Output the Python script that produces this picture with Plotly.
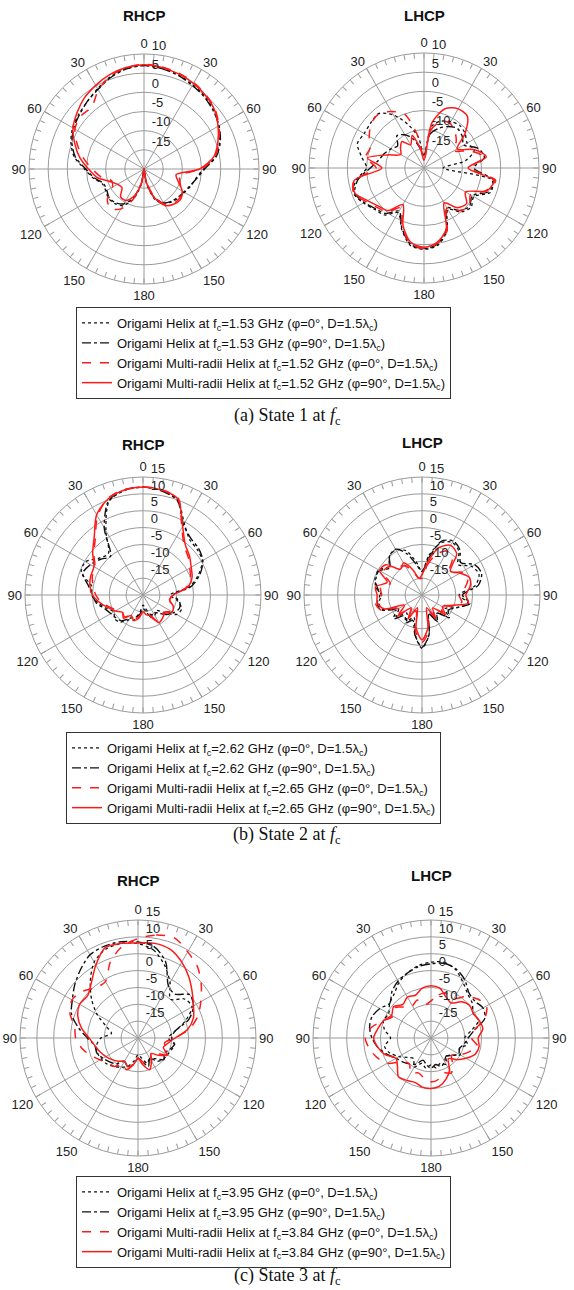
import plotly.graph_objects as go

# Elevation angle (deg), clockwise from zenith, sampled every 10 deg
theta = list(range(0, 360, 10))

# ---------------- State 1 : RHCP (dBic) ----------------
s1_rhcp_helix_phi0 = [7.0, 6.7, 6.2, 5.4, 4.7, 3.8, 2.5, 1.0, -1.0, -4.5, -6.2, -7.0,
                      -7.8, -8.2, -8.8, -9.6, -11.5, -16, -20, -16, -11.5, -9.0, -8.2, -8.0,
                      -8.5, -8.5, -6.5, -4.5, -1.5, 0.3, 1.5, 2.2, 3.0, 4.2, 5.6, 6.6]
s1_rhcp_helix_phi90 = [7.0, 6.6, 6.0, 5.2, 4.5, 3.6, 2.6, 1.2, -0.8, -4.2, -6.0, -7.2,
                       -8.0, -8.5, -9.0, -9.8, -12, -16.5, -20, -16.5, -12, -9.5, -8.5, -8.2,
                       -8.8, -8.8, -6.8, -4.8, -1.8, 0.0, 1.2, 2.0, 3.0, 4.0, 5.4, 6.5]
s1_rhcp_multi_phi0 = [7.3, 7.0, 6.6, 6.0, 5.2, 4.2, 2.6, 0.8, -1.2, -5.0, -10.5, -10.0,
                      -8.8, -8.0, -8.2, -9.5, -12.5, -17, -20, -16, -11.5, -8.0, -6.5, -7.5,
                      -10.5, -11.0, -8.5, -6.5, -4.0, -1.5, 0.8, 1.5, 1.2, 3.8, 5.8, 6.8]
s1_rhcp_multi_phi90 = [7.2, 6.9, 6.4, 5.8, 5.0, 4.0, 2.3, 0.5, -1.5, -5.5, -11.5, -10.5,
                       -8.5, -7.6, -8.0, -9.0, -12.0, -16.5, -20, -16.5, -12.5, -10.5, -10.5, -12.5,
                       -12.0, -10.5, -7.5, -5.5, -3.0, -0.8, 1.4, 2.8, 4.2, 5.2, 6.2, 6.9]

# ---------------- State 1 : LHCP ----------------
s1_lhcp_helix_phi0 = [-17, -9, -7, -6, -5.5, -6, -7, -6, -9, -15, -2, -1.5,
                      -5, -4, -5, -7.5, -2.5, 0.5, 1.2, 0.5, -3, -6.5, -4.0, -3.2,
                      -1.8, -0.5, -2, -5, -3.5, -1.5, -2, -1.8, -1.5, -4, -8, -12]
s1_lhcp_helix_phi90 = [-17, -11, -9, -7.5, -6.5, -7, -8, -5, -4, -7, -1.5, -2,
                       -5.5, -4.5, -5.5, -8, -3, 0.2, 1.0, 0.2, -3.2, -7, -4.5, -3.5,
                       -2.0, -0.8, -2.5, -6, -8, -9, -10, -11, -9, -10, -12, -15]
s1_lhcp_multi_phi0 = [-18, -10, -7, -6.5, -7.5, -9, -11, -7, -4, -8, -1.0, -2.8,
                      -6, -4.5, -5.5, -8, -2.5, 0.0, 1.0, 0.0, -3.5, -8, -5, -4,
                      -2.5, -0.5, -1.5, -7.5, -4.5, -5, -3.5, -2.0, -1.6, -3.0, -5, -12]
s1_lhcp_multi_phi90 = [-18, -8, -3.5, -2.2, -2.4, -6, -10, -6, -3.5, -8.5, -1.5, -2.5,
                       -7.5, -5.5, -6.5, -9.5, -3.0, -0.3, 0.7, -0.3, -4, -9, -5.5, -4.5,
                       -3.0, -0.8, -1.5, -9, -5, -10, -13, -12, -11, -13, -11, -15]

# ---------------- State 2 : RHCP ----------------
s2_rhcp_helix_phi0 = [12.0, 11.5, 10.0, 4.5, 1.5, 1.0, 0.3, -2.5, -6, -12, -9.5, -7.8,
                      -8.5, -12, -14, -13, -14, -16, -17, -15, -12, -11.5, -9.5, -9,
                      -10, -8.5, -6.5, -4.8, -4.5, -0.5, -0.3, -3, -4.0, 2.0, 9.5, 11.5]
s2_rhcp_helix_phi90 = [12.0, 11.4, 9.8, 4.0, 2.0, 1.5, 0.5, -2.0, -5.5, -11, -9.0, -8.5,
                       -9.5, -11, -13, -14, -13, -15, -16, -14, -13, -12, -10, -9.5,
                       -9, -8, -6.0, -5.0, -3.5, -1.0, -2.0, -3.5, -5.0, 3.0, 9.8, 11.6]
s2_rhcp_multi_phi0 = [12.0, 11.7, 10.5, 3.0, -1.0, -2.5, -4.0, -5.0, -7.0, -11, -12, -11,
                      -10.5, -12, -11.5, -11, -13, -14.5, -15, -13.5, -12.5, -13, -11.5, -12,
                      -11, -9.5, -7.5, -6.0, -5.0, -4.0, -3.5, -1.0, 2.0, 7.0, 10.5, 11.8]
s2_rhcp_multi_phi90 = [12.0, 11.6, 10.3, 3.5, -0.5, -2.0, -3.5, -4.5, -6.5, -11, -12, -10.5,
                       -10, -11.5, -11, -10.5, -13.5, -14, -15, -13, -12, -13, -11, -12,
                       -10.5, -9, -7.0, -5.0, -4.0, -3.5, -3.2, -0.5, 2.5, 7.5, 10.3, 11.6]

# ---------------- State 2 : LHCP ----------------
s2_lhcp_helix_phi0 = [-13, -8, -3.5, -2, -3, -6, -3, -2, -4, -9, -6, -9,
                      -12, -10, -13, -11, -14, -8, -4.2, -8, -13, -11, -13, -10,
                      -12, -7.5, -7, -8, -6, -5.5, -5, -7, -5, -4.5, -6, -10]
s2_lhcp_helix_phi90 = [-13, -9, -3, -1.5, -2.5, -5, -2, -1.2, -3, -8, -5.5, -9,
                       -11, -9.5, -13, -11, -14, -8, -4.5, -8, -12, -10.5, -12, -9,
                       -11, -7, -6.5, -7.5, -6.5, -5.2, -5.5, -7.5, -5, -4.3, -7, -11]
s2_lhcp_multi_phi0 = [-15, -11, -7, -5, -6, -9.5, -6.5, -5.5, -7, -9, -8, -10,
                      -14, -12, -15, -13, -15, -9, -6, -9, -15, -12, -15, -10,
                      -12, -7, -6, -8, -7.5, -10, -6.5, -7, -9, -10, -13, -15]
s2_lhcp_multi_phi90 = [-14, -10, -5, -3, -4, -9, -7, -5, -5.5, -7, -6, -11,
                       -13, -11, -15, -12, -16, -10, -6.7, -10, -16, -12, -15, -11,
                       -14, -8, -6.5, -6.7, -6, -9, -5.5, -6, -10, -9, -12, -15]

# ---------------- State 3 : RHCP ----------------
s3_rhcp_helix_phi0 = [8.0, 6.5, 3.0, -1.0, -5.0, -2.0, -1.5, -5, -9, -11, -9, -9.5,
                      -10, -10.2, -11, -13, -12, -14, -15, -13, -11, -10, -9, -8,
                      -7.5, -7.2, -7.5, -9, -12, -10, -6, -2, 2, 6, 8, 8.5]
s3_rhcp_helix_phi90 = [8.5, 7.5, 4.0, -2.0, -3.0, 0.0, -1.0, -4, -9, -10, -9, -10,
                       -11, -10, -12, -13, -11, -13, -14, -12, -11, -12, -10, -9,
                       -8, -7, -7, -5, -2, 1, 2.5, 4.5, 6.5, 8.5, 9.0, 9.0]
s3_rhcp_multi_phi0 = [9.5, 11.0, 11.6, 9.5, 7.5, 4.5, 1.5, -1.1, -4.5, -9, -12, -11,
                      -10, -13, -14, -12, -11, -13, -14, -12, -10, -11, -9, -8.5,
                      -7, -5, -3, -1.5, -0.9, 1.5, 2.6, 1.5, -0.5, -0.7, 4, 7.5]
s3_rhcp_multi_phi90 = [8.2, 8.5, 8.0, 6.0, 3.5, 1.0, -1, -2.5, -5, -9, -11, -12,
                       -10, -12, -14, -12, -10, -12, -14, -12, -11, -12, -11, -10,
                       -9, -8, -7, -5.5, -3, -1, 0, -0.5, 1.5, 5, 8.5, 8.5]

# ---------------- State 3 : LHCP ----------------
s3_lhcp_helix_phi0 = [2.5, 2.8, 1.5, -1, -3, -4, -5.5, -5, -8, -10, -9, -11,
                      -10, -12, -13, -11, -12, -11, -12, -11, -12, -10, -12, -11,
                      -9, -7, -6, -8, -6, -5, -5.5, -4, -3, -1, 0.5, 1.8]
s3_lhcp_helix_phi90 = [2.0, 2.5, 1.8, 0, -2.5, -3, -2.2, -3, -7, -9, -10, -11,
                       -10.5, -12, -13, -12, -11, -12, -11, -12, -13, -11, -10, -9,
                       -8, -6, -4, -2.5, -1.5, -1.4, -2.5, -4, -2, -0.5, 0.5, 1.5]
s3_lhcp_multi_phi0 = [-9, -7, -6, -6.5, -4, -2, -1, -3, -7, -8, -6, -8,
                      -10, -12, -10, -8, -9, -7.5, -7, -8, -9, -8, -10, -9,
                      -5, -3, -1.5, -0.5, -2, -5, -7, -6, -8, -9, -8, -10]
s3_lhcp_multi_phi90 = [-4.5, -5, -7, -8, -6, -5, -5.5, -4.8, -4.4, -6, -5.5, -6,
                       -8, -10, -12, -9, -7, -5.5, -5.0, -5.2, -6, -5.5, -5, -7,
                       -8, -5.5, -4, -3, -4, -5, -6.5, -5.5, -7, -6, -6.5, -5]

# Legend labels per state: (helix f_c, multi-radii f_c)
state_freqs = [("1.53", "1.52"), ("2.62", "2.65"), ("3.95", "3.84")]
captions = ["(a) State 1 at <i>f</i><sub>c</sub>",
            "(b) State 2 at <i>f</i><sub>c</sub>",
            "(c) State 3 at <i>f</i><sub>c</sub>"]
panel_titles = ["RHCP", "LHCP"]
radial_max = [10, 15, 15]

W, H = 574, 1290

# Panel centres and radii in pixels
panel_geom = [
    [(144, 169, 115), (424, 168, 115)],
    [(143, 595, 118), (422, 595, 118)],
    [(138, 1038, 118), (431, 1038, 118)],
]
title_y = [[15, 15], [445, 442], [880, 875]]
legend_pos = [(76, 307), (66, 732), (76, 1176)]
caption_y = [417, 835, 1290]

series = [
    [(s1_rhcp_helix_phi0, s1_rhcp_helix_phi90, s1_rhcp_multi_phi0, s1_rhcp_multi_phi90),
     (s1_lhcp_helix_phi0, s1_lhcp_helix_phi90, s1_lhcp_multi_phi0, s1_lhcp_multi_phi90)],
    [(s2_rhcp_helix_phi0, s2_rhcp_helix_phi90, s2_rhcp_multi_phi0, s2_rhcp_multi_phi90),
     (s2_lhcp_helix_phi0, s2_lhcp_helix_phi90, s2_lhcp_multi_phi0, s2_lhcp_multi_phi90)],
    [(s3_rhcp_helix_phi0, s3_rhcp_helix_phi90, s3_rhcp_multi_phi0, s3_rhcp_multi_phi90),
     (s3_lhcp_helix_phi0, s3_lhcp_helix_phi90, s3_lhcp_multi_phi0, s3_lhcp_multi_phi90)],
]

styles = [
    dict(color="#111111", dash="dot", width=1.3),
    dict(color="#111111", dash="dashdot", width=1.4),
    dict(color="#ff1a1a", dash="dash", width=1.5),
    dict(color="#ff1a1a", dash="solid", width=1.5),
]

GRID = "#9a9a9a"
FONT = "Liberation Sans, Arial, sans-serif"
SERIF = "Liberation Serif, Times New Roman, serif"
NBSP = "\u00a0"


def closed(vals):
    return list(vals) + [vals[0]], theta + [360]


def ang_label(a):
    if a % 30:
        return ""
    return str(a if a <= 180 else 360 - a)


fig = go.Figure()
layout_polars = {}
annotations = []
legends = {}

pidx = 0
for row in range(3):
    helix_f, multi_f = state_freqs[row]
    names = [
        f"Origami Helix at f<sub>c</sub>={helix_f} GHz (φ=0°, D=1.5λ<sub>c</sub>)",
        f"Origami Helix at f<sub>c</sub>={helix_f} GHz (φ=90°, D=1.5λ<sub>c</sub>)",
        f"Origami Multi-radii Helix at f<sub>c</sub>={multi_f} GHz (φ=0°, D=1.5λ<sub>c</sub>)",
        f"Origami Multi-radii Helix at f<sub>c</sub>={multi_f} GHz (φ=90°, D=1.5λ<sub>c</sub>)",
    ]
    legend_id = "legend" if row == 0 else f"legend{row + 1}"
    rmax = radial_max[row]
    rticks = list(range(-15, rmax + 1, 5))
    for col in range(2):
        pidx += 1
        pname = "polar" if pidx == 1 else f"polar{pidx}"
        cx, cy, rad = panel_geom[row][col]

        # 30-degree spokes from the centre to the outer ring
        spoke_r, spoke_t = [], []
        for a in range(0, 360, 30):
            spoke_r += [-20, rmax, None]
            spoke_t += [a, a, None]
        fig.add_trace(go.Scatterpolar(r=spoke_r, theta=spoke_t, mode="lines",
                                      line=dict(color=GRID, width=1),
                                      showlegend=False, hoverinfo="skip",
                                      subplot=pname))

        for k, vals in enumerate(series[row][col]):
            r, t = closed(vals)
            fig.add_trace(go.Scatterpolar(
                r=r, theta=t, mode="lines", name=names[k],
                line=dict(shape="spline", smoothing=0.8, **styles[k]),
                showlegend=(col == 0), legend=legend_id, subplot=pname))

        layout_polars[pname] = dict(
            domain=dict(x=[(cx - rad) / W, (cx + rad) / W],
                        y=[1 - (cy + rad) / H, 1 - (cy - rad) / H]),
            bgcolor="white",
            angularaxis=dict(
                rotation=90, direction="clockwise",
                tickvals=list(range(0, 360, 5)),
                ticktext=[ang_label(a) for a in range(0, 360, 5)],
                ticks="inside", ticklen=5, tickcolor=GRID, tickwidth=1,
                showgrid=False, showline=True, linecolor=GRID, linewidth=1,
                tickfont=dict(family=FONT, size=13, color="#222222"),
            ),
            radialaxis=dict(
                range=[-20, rmax], tickvals=rticks,
                # labels sit just above their ring, right of the zenith spoke
                ticktext=[f"{NBSP}{NBSP}{v}<br>{NBSP}" for v in rticks],
                angle=90, side="clockwise", tickangle=90,
                showline=False, ticks="", gridcolor=GRID, gridwidth=1,
                tickfont=dict(family=FONT, size=13, color="#222222"),
            ),
        )
        annotations.append(dict(
            text=f"<b>{panel_titles[col]}</b>", x=cx / W, y=1 - title_y[row][col] / H,
            xref="paper", yref="paper", showarrow=False,
            font=dict(family=FONT, size=15, color="#111111"),
            xanchor="center", yanchor="middle"))

    lx, ly = legend_pos[row]
    legends[legend_id] = dict(
        x=lx / W, y=1 - ly / H, xanchor="left", yanchor="top",
        bordercolor="#333333", borderwidth=1, bgcolor="white",
        font=dict(family=FONT, size=13, color="#111111"),
        tracegroupgap=0, itemwidth=30)
    cap = dict(
        text=captions[row], x=0.5, y=1 - caption_y[row] / H,
        xref="paper", yref="paper", showarrow=False,
        font=dict(family=SERIF, size=18, color="#111111"),
        xanchor="center", yanchor="middle")
    if row == 2:
        cap["yanchor"] = "bottom"
    annotations.append(cap)

fig.update_layout(
    width=W, height=H, margin=dict(l=0, r=0, t=0, b=0),
    paper_bgcolor="white", plot_bgcolor="white",
    showlegend=True, annotations=annotations,
    **layout_polars, **legends,
)

fig.write_html("out.html")
